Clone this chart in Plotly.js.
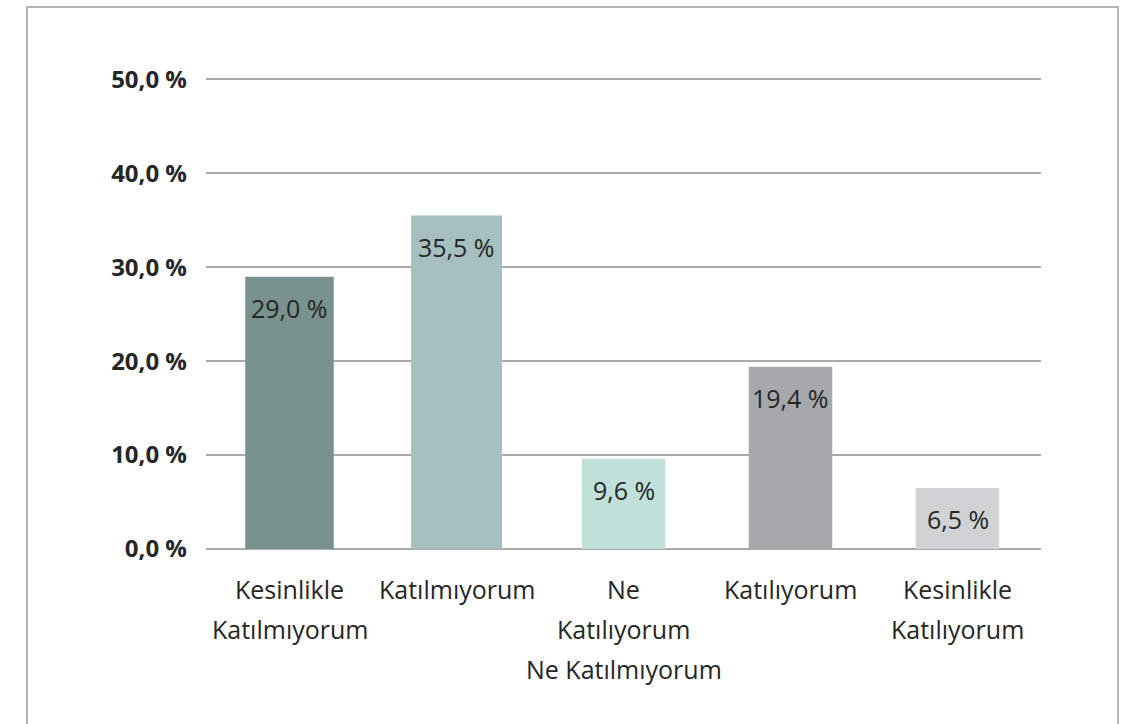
<!DOCTYPE html>
<html>
<head>
<meta charset="utf-8">
<script src="https://cdn.plot.ly/plotly-3.0.1.min.js"></script>
<style>
html,body{margin:0;padding:0;background:#fff;}
#chart{width:1126px;height:724px;}
</style>
</head>
<body>
<div id="chart"></div>
<script>
const categories = [
  "Kesinlikle\nKatılmıyorum",
  "Katılmıyorum",
  "Ne\nKatılıyorum\nNe Katılmıyorum",
  "Katılıyorum",
  "Kesinlikle\nKatılıyorum"
];
const values = [29.0, 35.5, 9.6, 19.4, 6.5];
const valueLabels = ["29,0 %", "35,5 %", "9,6 %", "19,4 %", "6,5 %"];
const barColors = ["#7a928d", "#a6bfc0", "#bfe1da", "#a7a8ac", "#d1d2d4"];
const yTickValues = [0, 10, 20, 30, 40, 50];
const yTickLabels = ["0,0 %", "10,0 %", "20,0 %", "30,0 %", "40,0 %", "50,0 %"];

const FONT = "Open Sans, Noto Sans, sans-serif";
const TXT = "#262626";

const trace = {
  type: "bar",
  x: categories,
  y: values,
  width: [0.53, 0.545, 0.5, 0.5, 0.5],
  marker: {color: barColors},
  hoverinfo: "skip"
};

const annotations = [];
categories.forEach((c, i) => {
  annotations.push({
    x: c, y: values[i], xref: "x", yref: "y",
    text: valueLabels[i], showarrow: false,
    yanchor: "middle", yshift: -31,
    font: {family: FONT, size: 25, color: TXT}
  });
  c.split("\n").forEach((line, j) => {
    annotations.push({
      x: c, y: 0, xref: "x", yref: "paper",
      text: line, showarrow: false,
      yanchor: "middle", yshift: -40 - 40 * j,
      font: {family: FONT, size: 25, color: TXT}
    });
  });
});

const W = 1126, H = 724, L = 206, R = 85, T = 70, B = 175;
const pw = W - L - R, ph = H - T - B;
const px = v => (v - L) / pw;
const py = v => (H - B - v) / ph;

const layout = {
  width: W, height: H,
  margin: {l: L, r: R, t: T, b: B, pad: 0},
  paper_bgcolor: "#ffffff",
  plot_bgcolor: "#ffffff",
  showlegend: false,
  xaxis: {
    type: "category",
    showticklabels: false,
    showgrid: false,
    zeroline: false,
    showline: false,
    ticks: "",
    fixedrange: true
  },
  yaxis: {
    range: [0, 51],
    tickvals: yTickValues,
    ticktext: yTickLabels,
    tickfont: {family: FONT, size: 24, color: TXT, weight: "bold"},
    showgrid: true,
    gridcolor: "#a9a9ac",
    gridwidth: 2,
    zeroline: true,
    zerolinecolor: "#a9a9ac",
    zerolinewidth: 2,
    showline: false,
    ticks: "",
    ticklabelstandoff: 18,
    fixedrange: true
  },
  annotations: annotations,
  shapes: [{
    type: "path", xref: "paper", yref: "paper",
    path: `M ${px(27)} ${py(740)} L ${px(27)} ${py(7)} L ${px(1118)} ${py(7)} L ${px(1118)} ${py(740)}`,
    line: {color: "#b4b4b6", width: 2}
  }]
};

Plotly.newPlot("chart", [trace], layout, {displayModeBar: false, staticPlot: true});
</script>
</body>
</html>
